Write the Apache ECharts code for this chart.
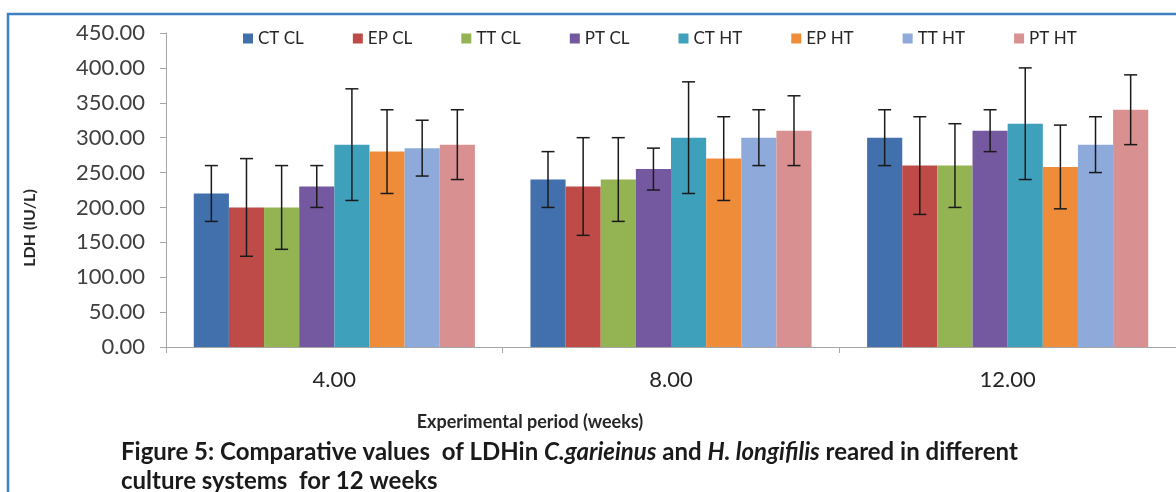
<!DOCTYPE html>
<html>
<head>
<meta charset="utf-8">
<script src="https://cdn.jsdelivr.net/npm/echarts@6/dist/echarts.min.js"></script>
<style>
  html, body { margin: 0; padding: 0; background: #fff; }
  #chart { width: 1176px; height: 492px; }
</style>
</head>
<body>
<div id="chart"></div>
<script>
// ---- data ----
const categories = ['4.00', '8.00', '12.00'];
const seriesNames = ['CT CL', 'EP CL', 'TT CL', 'PT CL', 'CT HT', 'EP HT', 'TT HT', 'PT HT'];
const ctCL = [220, 240, 300];
const epCL = [200, 230, 260];
const ttCL = [200, 240, 260];
const ptCL = [230, 255, 310];
const ctHT = [290, 300, 320];
const epHT = [280, 270, 258];
const ttHT = [285, 300, 290];
const ptHT = [290, 310, 340];
const ctCLErr = [40, 40, 40];
const epCLErr = [70, 70, 70];
const ttCLErr = [60, 60, 60];
const ptCLErr = [30, 30, 30];
const ctHTErr = [80, 80, 80];
const epHTErr = [60, 60, 60];
const ttHTErr = [40, 40, 40];
const ptHTErr = [50, 50, 50];
const yTicks = { min: 0, max: 450, interval: 50 };

const values = [ctCL, epCL, ttCL, ptCL, ctHT, epHT, ttHT, ptHT];
const errors = [ctCLErr, epCLErr, ttCLErr, ptCLErr, ctHTErr, epHTErr, ttHTErr, ptHTErr];
const colors = ['#4170ad', '#be4b48', '#94b454', '#7559a0', '#3fa0bc', '#ef8c3a', '#8eaadb', '#d99090'];

const CAT_GAP = 0.165;
const FONT = 'Lato, "Open Sans", sans-serif';

const barSeries = seriesNames.map((name, i) => ({
  name: name,
  type: 'bar',
  data: values[i],
  barGap: '0%',
  barCategoryGap: (CAT_GAP * 100) + '%',
  itemStyle: { color: colors[i] },
  emphasis: { disabled: true }
}));

const errData = [];
values.forEach((arr, s) => {
  arr.forEach((v, c) => errData.push([c, v, errors[s][c], s]));
});

const errSeries = {
  type: 'custom',
  name: 'err',
  z: 10,
  silent: true,
  data: errData,
  renderItem: function (params, api) {
    const c = api.value(0), v = api.value(1), e = api.value(2), s = api.value(3);
    const band = api.size([1, 0])[0];
    const bw = band * (1 - CAT_GAP) / seriesNames.length;
    const center = api.coord([c, v]);
    const x = center[0] + (s - (seriesNames.length - 1) / 2) * bw;
    const yTop = api.coord([c, v + e])[1];
    const yBot = api.coord([c, v - e])[1];
    const cap = 6.5;
    const st = { stroke: '#1a1a1a', lineWidth: 1.5 };
    return {
      type: 'group',
      children: [
        { type: 'line', shape: { x1: x, y1: yTop, x2: x, y2: yBot }, style: st },
        { type: 'line', shape: { x1: x - cap, y1: yTop, x2: x + cap, y2: yTop }, style: st },
        { type: 'line', shape: { x1: x - cap, y1: yBot, x2: x + cap, y2: yBot }, style: st }
      ]
    };
  }
};

const chart = echarts.init(document.getElementById('chart'), null, { renderer: 'canvas' });
chart.setOption({
  animation: false,
  backgroundColor: '#ffffff',
  color: colors,
  grid: { left: 166, top: 33, width: 1016, height: 314, containLabel: false },
  legend: {
    data: seriesNames,
    left: 238,
    top: 25,
    itemWidth: 10,
    itemHeight: 10,
    itemGap: 49,
    icon: 'rect',
    textStyle: { fontFamily: FONT, fontSize: 17, color: '#262626' }
  },
  xAxis: {
    type: 'category',
    data: categories,
    axisLine: { lineStyle: { color: '#a6a6a6', width: 1 } },
    axisTick: { show: true, alignWithLabel: false, length: 6, lineStyle: { color: '#a6a6a6' } },
    axisLabel: { fontFamily: FONT, fontSize: 22, color: '#262626', margin: 22 },
    splitLine: { show: false }
  },
  yAxis: {
    type: 'value',
    min: yTicks.min,
    max: yTicks.max,
    interval: yTicks.interval,
    axisLine: { show: true, lineStyle: { color: '#a6a6a6', width: 1 } },
    axisTick: { show: true, length: 6, lineStyle: { color: '#a6a6a6' } },
    axisLabel: {
      fontFamily: FONT, fontSize: 22, color: '#404040', margin: 21,
      formatter: v => v.toFixed(2)
    },
    splitLine: { show: false }
  },
  graphic: [
    {
      type: 'rect',
      silent: true,
      z: -1,
      shape: { x: 8, y: 14, width: 1200, height: 520 },
      style: { fill: 'none', stroke: '#3f7fc4', lineWidth: 2.5 }
    },
    {
      type: 'text',
      x: 30, y: 228,
      rotation: Math.PI / 2,
      style: {
        text: 'LDH (IU/L)',
        fontFamily: FONT, fontSize: 16, fontWeight: 'bold', fill: '#262626',
        align: 'center', verticalAlign: 'middle'
      }
    },
    {
      type: 'text',
      x: 530, y: 422,
      style: {
        text: 'Experimental period (weeks)',
        fontFamily: FONT, fontSize: 18, fontWeight: 'bold', fill: '#262626',
        align: 'center', verticalAlign: 'middle'
      }
    },
    {
      type: 'text',
      x: 121, y: 452,
      style: {
        text: '{b|Figure 5: Comparative values  of LDHin }{i|C.garieinus}{b| and }{i|H. longifilis}{b| reared in different}',
        verticalAlign: 'middle',
        rich: {
          b: { fontFamily: FONT, fontSize: 24, fontWeight: 'bold', fill: '#1a1a1a' },
          i: { fontFamily: FONT, fontSize: 24, fontWeight: 'bold', fontStyle: 'italic', fill: '#1a1a1a' }
        }
      }
    },
    {
      type: 'text',
      x: 121, y: 481,
      style: {
        text: 'culture systems  for 12 weeks',
        fontFamily: FONT, fontSize: 24, fontWeight: 'bold', fill: '#1a1a1a',
        verticalAlign: 'middle'
      }
    }
  ],
  series: barSeries.concat([errSeries])
});
</script>
</body>
</html>
